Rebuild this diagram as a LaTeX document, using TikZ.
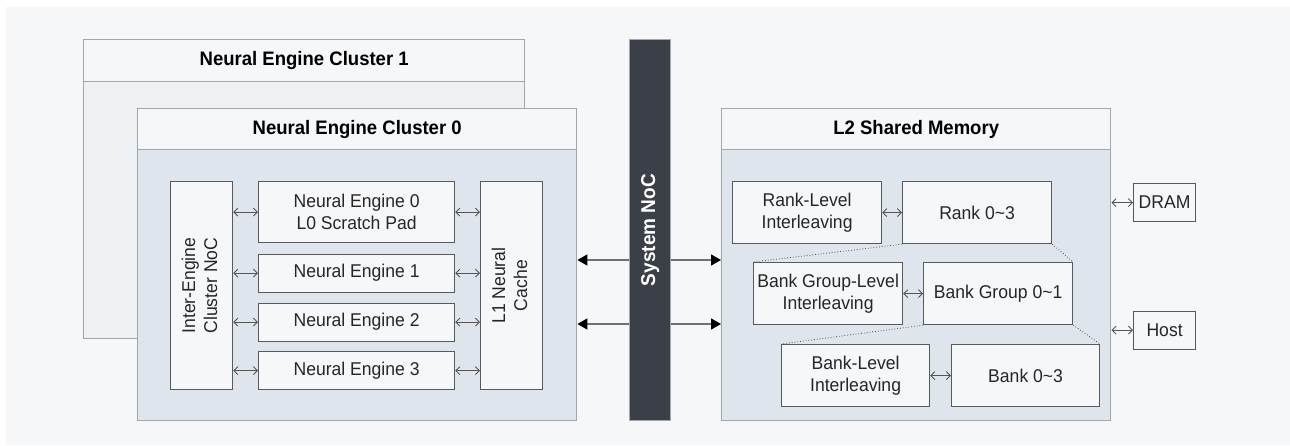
\documentclass[tikz,border=0pt]{standalone}
\usepackage{fontspec}
\usepackage{graphicx}
\setmainfont[FakeStretch=0.95]{Liberation Sans}
\usetikzlibrary{arrows.meta}

\definecolor{pagebg}{HTML}{F6F7F9}
\definecolor{bodyfill}{HTML}{DFE5EC}
\definecolor{bodyfaint}{HTML}{EEF1F4}
\definecolor{outline}{HTML}{A2A6AB}
\definecolor{boxline}{HTML}{56595E}
\definecolor{nocfill}{HTML}{3B4048}
\definecolor{ink}{HTML}{262626}
\definecolor{linkgray}{HTML}{555555}
\definecolor{busgray}{HTML}{707070}

% upright text turned to read bottom-to-top
\newcommand{\uptext}[1]{\rotatebox{90}{\begin{tabular}{@{}c@{}}#1\end{tabular}}}

\begin{document}
\begin{tikzpicture}[x=1pt,y=-1pt,
  panel/.style={draw=outline, line width=1.4pt, anchor=north west, inner sep=0pt},
  header/.style={draw=outline, line width=1.4pt, fill=pagebg, anchor=north west,
    inner sep=0pt, font=\fontsize{19.5}{23}\selectfont\bfseries, text=black},
  ibox/.style={draw=boxline, line width=1.2pt, fill=pagebg, anchor=north west,
    inner sep=0pt, align=center, font=\fontsize{18.5}{22}\selectfont, text=ink},
  link/.style={draw=linkgray, line width=0.9pt,
    {Straight Barb[length=4pt,width=8pt]}-{Straight Barb[length=4pt,width=8pt]}},
  bus/.style={draw=busgray, line width=1.6pt,
    -{Triangle[length=10pt,width=11pt,color=black]}},
  zoomline/.style={draw=linkgray, line width=0.8pt, dotted}
]
% canvas
\fill[white] (0,0) rectangle (1290,445);
\useasboundingbox (0,0) rectangle (1290,445);
\fill[pagebg] (6,7) rectangle (1290,445);

% Neural Engine Cluster 1 (behind)
\node[panel, fill=bodyfaint, minimum width=441, minimum height=299] (c1) at (83,39) {};
\node[header, minimum width=441, minimum height=42] (c1h) at (83,39) {Neural Engine Cluster 1};

% Neural Engine Cluster 0
\node[panel, fill=bodyfill, minimum width=439, minimum height=312] (c0) at (137,108) {};
\node[header, minimum width=439, minimum height=41] (c0h) at (137,108) {Neural Engine Cluster 0};

\node[ibox, minimum width=62, minimum height=208] (icnoc) at (170,181) {\uptext{Inter-Engine\\Cluster NoC}};
\node[ibox, minimum width=196, minimum height=61] (ne0) at (258,181) {Neural Engine 0\\L0 Scratch Pad};
\node[ibox, minimum width=196, minimum height=38] (ne1) at (258,253.5) {Neural Engine 1};
\node[ibox, minimum width=196, minimum height=38] (ne2) at (258,302.5) {Neural Engine 2};
\node[ibox, minimum width=196, minimum height=38] (ne3) at (258,351) {Neural Engine 3};
\node[ibox, minimum width=62, minimum height=208] (l1) at (480,181) {\uptext{L1 Neural\\Cache}};

\foreach \n in {ne0,ne1,ne2,ne3}{
  \draw[link] (\n.west -| icnoc.east) -- (\n.west);
  \draw[link] (\n.east) -- (\n.east -| l1.west);
}

% System NoC
\node[draw=outline, line width=1.2pt, fill=nocfill, anchor=north west, inner sep=0pt,
  minimum width=41, minimum height=381, text=white,
  font=\fontsize{20}{24}\selectfont\bfseries] (noc) at (629,39) {\rotatebox{90}{System NoC}};

% L2 Shared Memory
\node[panel, fill=bodyfill, minimum width=389, minimum height=312] (l2) at (721,108) {};
\node[header, minimum width=389, minimum height=41] (l2h) at (721,108) {L2 Shared Memory};

\node[ibox, minimum width=149, minimum height=62] (rli) at (732,181) {Rank-Level\\Interleaving};
\node[ibox, minimum width=149, minimum height=62] (rank) at (902,181) {Rank 0\textasciitilde3};
\node[ibox, minimum width=149, minimum height=62] (bgli) at (753,262) {Bank Group-Level\\Interleaving};
\node[ibox, minimum width=149, minimum height=62] (bgrp) at (923,262) {Bank Group 0\textasciitilde1};
\node[ibox, minimum width=148, minimum height=62] (bli) at (781,344) {Bank-Level\\Interleaving};
\node[ibox, minimum width=148, minimum height=62] (bank) at (951,344) {Bank 0\textasciitilde3};

\draw[link] (rli.east) -- (rank.west);
\draw[link] (bgli.east) -- (bgrp.west);
\draw[link] (bli.east) -- (bank.west);

\draw[zoomline] (rank.south west) -- (bgli.north west);
\draw[zoomline] (rank.south east) -- (bgrp.north east);
\draw[zoomline] (bgrp.south west) -- (bli.north west);
\draw[zoomline] (bgrp.south east) -- (bank.north east);

% external memory and host
\node[ibox, minimum width=62, minimum height=38] (dram) at (1133,183) {DRAM};
\node[ibox, minimum width=62, minimum height=38] (host) at (1133,310.5) {Host};
\draw[link] (dram.west -| l2.east) -- (dram.west);
\draw[link] (host.west -| l2.east) -- (host.west);

% system bus links
\coordinate (busA) at (600,260);
\coordinate (busB) at (600,324);
\foreach \b in {busA,busB}{
  \draw[bus] (\b -| noc.west) -- (\b -| c0.east);
  \draw[bus] (\b -| noc.east) -- (\b -| l2.west);
}
\end{tikzpicture}
\end{document}
